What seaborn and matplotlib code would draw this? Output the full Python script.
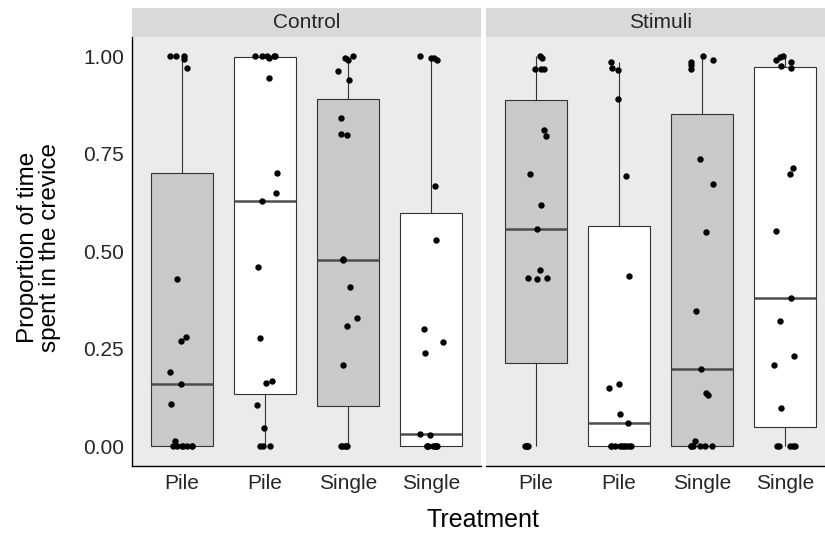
import numpy as np
import pandas as pd
import matplotlib
matplotlib.use("Agg")
import matplotlib.pyplot as plt
import seaborn as sns

# ---------------- data ----------------
panels = ["Control", "Stimuli"]
group_keys = ["Pile A", "Pile B", "Single A", "Single B"]
tick_labels = ["Pile", "Pile", "Single", "Single"]
y_ticks = [0.0, 0.25, 0.50, 0.75, 1.00]
y_tick_labels = ["0.00", "0.25", "0.50", "0.75", "1.00"]

control_pile_a = [0, 0, 0, 0, 0, 0, 0, 0.013, 0.11, 0.16, 0.19, 0.27, 0.28, 0.43,
                  0.971, 0.994, 1.0, 1.0, 1.0]
control_pile_b = [0, 0, 0, 0.047, 0.107, 0.162, 0.167, 0.279, 0.459, 0.629, 0.649,
                  0.70, 0.943, 1.0, 1.0, 1.0, 1.0, 0.996, 1.0]
control_single_a = [0, 0, 0, 0, 0, 0.21, 0.308, 0.329, 0.408, 0.479, 0.481, 0.799,
                    0.80, 0.841, 0.94, 0.962, 0.99, 0.995, 1.0]
control_single_b = [0, 0, 0, 0, 0, 0, 0, 0, 0.03, 0.032, 0.24, 0.268, 0.302, 0.53,
                    0.668, 0.99, 0.995, 0.995, 1.0]
stimuli_pile_a = [0, 0, 0, 0, 0, 0.428, 0.432, 0.432, 0.453, 0.556, 0.62, 0.697,
                  0.796, 0.81, 0.966, 0.966, 0.966, 0.996, 1.0]
stimuli_pile_b = [0, 0, 0, 0, 0, 0, 0, 0, 0, 0.06, 0.082, 0.149, 0.161, 0.437,
                  0.693, 0.891, 0.965, 0.969, 0.984]
stimuli_single_a = [0, 0, 0, 0, 0, 0, 0.015, 0.133, 0.137, 0.199, 0.348, 0.549,
                    0.672, 0.736, 0.968, 0.977, 0.985, 0.99, 1.0]
stimuli_single_b = [0, 0, 0, 0, 0, 0.099, 0.21, 0.231, 0.322, 0.38, 0.552, 0.699,
                    0.713, 0.971, 0.976, 0.985, 0.99, 0.997, 1.0]

series = {
    ("Control", "Pile A"): control_pile_a,
    ("Control", "Pile B"): control_pile_b,
    ("Control", "Single A"): control_single_a,
    ("Control", "Single B"): control_single_b,
    ("Stimuli", "Pile A"): stimuli_pile_a,
    ("Stimuli", "Pile B"): stimuli_pile_b,
    ("Stimuli", "Single A"): stimuli_single_a,
    ("Stimuli", "Single B"): stimuli_single_b,
}
rows = []
for (panel, key), vals in series.items():
    for v in vals:
        rows.append({"panel": panel, "group": key, "prop": v})
df = pd.DataFrame(rows)

fills = {"Pile A": "#C8C9CB", "Pile B": "#FFFFFF",
         "Single A": "#C8C9CB", "Single B": "#FFFFFF"}

# ---------------- style ----------------
sns.set_style("white")
plt.rcParams["font.family"] = ["Liberation Sans", "DejaVu Sans"]

W, H = 825, 534
fig = plt.figure(figsize=(W / 100, H / 100), dpi=100)


def rect(x0, y0, x1, y1):
    return [x0 / W, 1 - y1 / H, (x1 - x0) / W, (y1 - y0) / H]


panel_px = [(132.3, 481.0), (486.0, 834.7)]
top_px, bottom_px, strip_top = 36.7, 466.0, 8.0

np.random.seed(3)
for i, panel in enumerate(panels):
    x0, x1 = panel_px[i]
    ax = fig.add_axes(rect(x0, top_px, x1, bottom_px))
    ax.set_facecolor("#EBEBEB")
    sub = df[df["panel"] == panel]
    sns.boxplot(data=sub, x="group", y="prop", order=group_keys, hue="group",
                hue_order=group_keys, palette=fills, width=0.75, linewidth=0.8,
                linecolor="#333333", showcaps=False, showfliers=False,
                medianprops={"linewidth": 1.8, "color": "#4D4D4D"},
                legend=False, ax=ax, zorder=2)
    sns.stripplot(data=sub, x="group", y="prop", order=group_keys, color="black",
                  size=4.6, jitter=0.15, linewidth=0, ax=ax, zorder=3)
    ax.set_xlim(-0.6, 3.6)
    ax.set_ylim(-0.05, 1.05)
    ax.set_xticks(range(len(group_keys)))
    ax.set_xticklabels(tick_labels)
    ax.set_xlabel("")
    ax.set_ylabel("")
    ax.grid(False)
    for s in ["top", "right"]:
        ax.spines[s].set_visible(False)
    ax.spines["bottom"].set_color("black")
    ax.spines["bottom"].set_linewidth(1.0)
    ax.tick_params(axis="both", direction="out", length=3.5, width=0.8,
                   color="#333333", labelsize=15, labelcolor="#262626", pad=2.5)
    if i == 0:
        ax.spines["left"].set_color("black")
        ax.spines["left"].set_linewidth(1.0)
        ax.set_yticks(y_ticks)
        ax.set_yticklabels(y_tick_labels)
    else:
        ax.spines["left"].set_visible(False)
        ax.set_yticks(y_ticks)
        ax.tick_params(axis="y", left=False, labelleft=False)

    sax = fig.add_axes(rect(x0, strip_top, x1, top_px))
    sax.set_facecolor("#D9D9D9")
    sax.set_xticks([])
    sax.set_yticks([])
    for s in sax.spines.values():
        s.set_visible(False)
    sax.text(0.5, 0.48, panel, ha="center", va="center", fontsize=15,
             color="#262626", transform=sax.transAxes)

fig.text(39 / W, 1 - 247 / H, "Proportion of time\nspent in the crevice",
         rotation=90, ha="center", va="center", fontsize=17.5, color="black",
         linespacing=1.05)
fig.text(483 / W, 1 - 520 / H, "Treatment", ha="center", va="center",
         fontsize=18, color="black")

fig.savefig("out.png", dpi=100)
